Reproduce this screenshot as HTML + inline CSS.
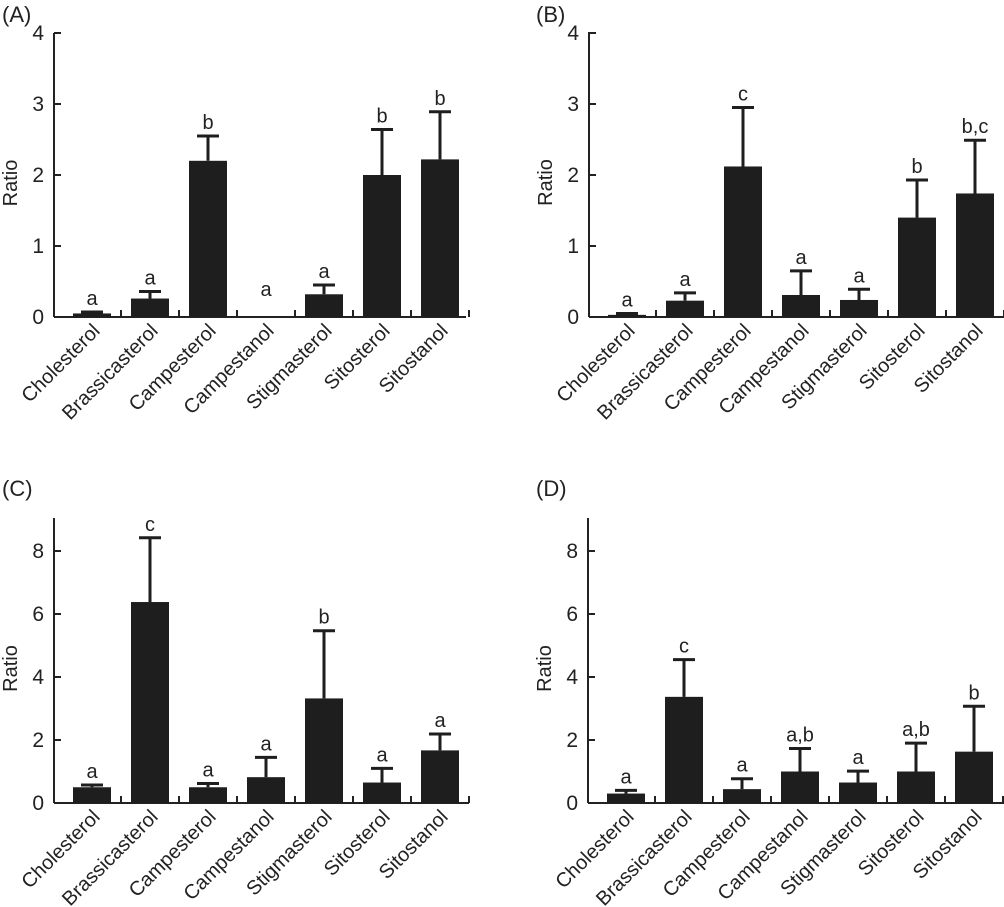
<!DOCTYPE html>
<html><head><meta charset="utf-8"><style>
html,body{margin:0;padding:0;background:#fff;}
svg{display:block;font-family:"Liberation Sans",Arial,sans-serif;}
</style></head><body>
<svg id="chart" width="1004" height="907" viewBox="0 0 1004 907" xmlns="http://www.w3.org/2000/svg"></svg>
<script>
const categories = ["Cholesterol","Brassicasterol","Campesterol","Campestanol","Stigmasterol","Sitosterol","Sitostanol"];
const valuesA = [0.05,0.26,2.2,0,0.32,2.0,2.22];
const upperA  = [0.07,0.36,2.55,0,0.45,2.64,2.89];
const lettersA = ["a","a","b","a","a","b","b"];
const valuesB = [0.03,0.23,2.12,0.31,0.24,1.4,1.74];
const upperB  = [0.05,0.34,2.95,0.65,0.39,1.93,2.49];
const lettersB = ["a","a","c","a","a","b","b,c"];
const valuesC = [0.5,6.38,0.5,0.82,3.32,0.65,1.67];
const upperC  = [0.57,8.42,0.62,1.45,5.47,1.1,2.19];
const lettersC = ["a","c","a","a","b","a","a"];
const valuesD = [0.3,3.37,0.44,1.0,0.65,1.0,1.63];
const upperD  = [0.4,4.55,0.77,1.73,1.01,1.9,3.07];
const lettersD = ["a","c","a","a,b","a","a,b","b"];
const ticksTop = [0,1,2,3,4];
const ticksBottom = [0,2,4,6,8];

const NS = "http://www.w3.org/2000/svg";
const svg = document.getElementById("chart");
function mk(tag, attrs, parent){
  const e = document.createElementNS(NS, tag);
  for (const k in attrs) e.setAttribute(k, attrs[k]);
  (parent||svg).appendChild(e);
  return e;
}
const panels = [
  {id:"a", title:"(A)", ax:54, y0:317, yTop:33, ymax:4, ticks:ticksTop, xEnd:466, vals:valuesA, up:upperA, let:lettersA, tx:2, ty:22},
  {id:"b", title:"(B)", ax:589, y0:317, yTop:32, ymax:4, ticks:ticksTop, xEnd:1004, vals:valuesB, up:upperB, let:lettersB, tx:536, ty:22},
  {id:"c", title:"(C)", ax:54, y0:803, yTop:518, ymax:8, ticks:ticksBottom, xEnd:469, vals:valuesC, up:upperC, let:lettersC, tx:2, ty:496},
  {id:"d", title:"(D)", ax:588, y0:803, yTop:518, ymax:8, ticks:ticksBottom, xEnd:1004, vals:valuesD, up:upperD, let:lettersD, tx:536, ty:496},
];
panels.forEach(p => {
  const g = mk("g", {});
  
  
  const yTopVal = p.ymax===4 ? 4 : 8;
  const yTickPx = p.ymax===4 ? (p.y0 - 33) : (p.y0 - 551);
  const y = v => p.y0 - v / yTopVal * yTickPx;
  const x = i => p.ax + 38 + i * 58;
  const t = mk("text", {x:p.tx, y:p.ty, "font-size":22, fill:"#222"}, g);
  t.textContent = p.title;
  
  
  const yaxis = mk("line", {x1:p.ax, y1:p.yTop, x2:p.ax, y2:p.y0, stroke:"#222", "stroke-width":2}, g);
  
  
  const xaxis = mk("line", {x1:p.ax, y1:p.y0, x2:p.xEnd, y2:p.y0, stroke:"#222", "stroke-width":2}, g);
  
  
  p.ticks.forEach(v => {
    mk("line", {x1:p.ax, y1:y(v), x2:p.ax+7, y2:y(v), stroke:"#222", "stroke-width":2}, g);
    const tl = mk("text", {x:p.ax-10, y:y(v)+7, "font-size":21, "text-anchor":"end", fill:"#222"}, g);
    tl.textContent = v;
    
    
  });
  for (let i = 1; i <= 7; i++) {
    const tx = x(i) - 29;
    mk("line", {x1:tx, y1:p.y0, x2:tx, y2:p.y0-7, stroke:"#222", "stroke-width":2}, g);
  }
  const yl = mk("text", {x:0, y:0, "font-size":20, "text-anchor":"middle", fill:"#222",
    transform:`translate(${p.ax-37},${(p.yTop+p.y0)/2+8}) rotate(-90)`}, g);
  yl.textContent = "Ratio";
  
  
  categories.forEach((c, i) => {
    const cx = x(i), v = p.vals[i], u = p.up[i];
    if (v > 0) {
      const b = mk("rect", {x:cx-19, y:y(v), width:38, height:p.y0-y(v), fill:"#1e1e1e"}, g);
      
      
    }
    if (u > v) {
      const e = mk("path", {d:`M${cx},${y(v)} V${y(u)} M${cx-11},${y(u)} H${cx+11}`, stroke:"#1e1e1e", "stroke-width":3, fill:"none"}, g);
      
      
    }
    const top = u > 0 ? y(u) : p.y0 - 14;
    const lt = mk("text", {x:cx, y:top-7, "font-size":20, "text-anchor":"middle", fill:"#222"}, g);
    lt.textContent = p.let[i];
    
    
    const cl = mk("text", {x:0, y:0, "font-size":20, "text-anchor":"end", fill:"#222",
      transform:`translate(${cx+9},${p.y0+15}) rotate(-45)`}, g);
    cl.textContent = c;
    
    
  });
});
</script>
</body></html>
